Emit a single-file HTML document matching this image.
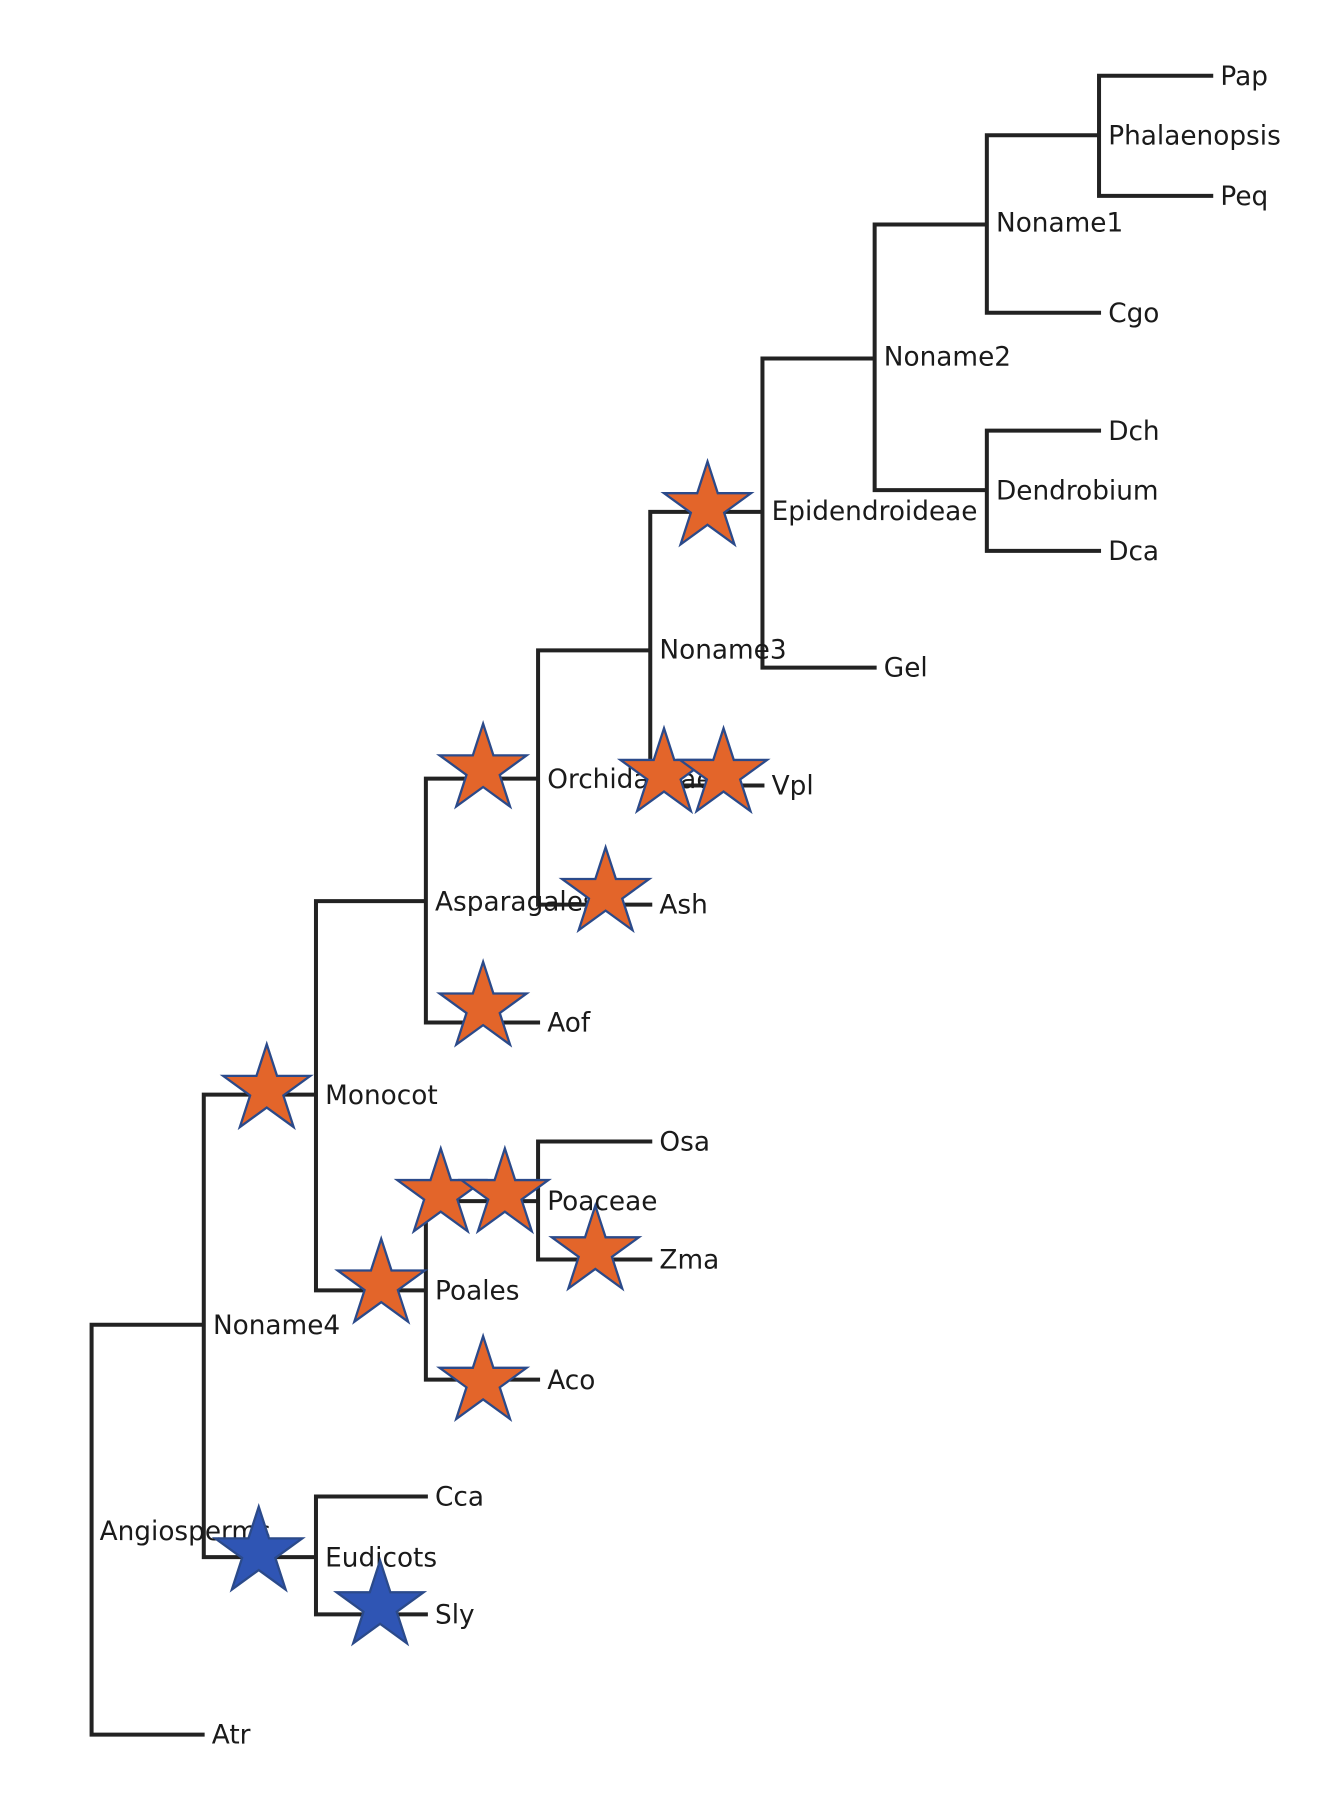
<!DOCTYPE html>
<html><head><meta charset="utf-8"><style>html,body{margin:0;padding:0;background:#fff}svg{display:block}</style></head>
<body>
<svg width="1328" height="1800" viewBox="0 0 1160 1572" xmlns="http://www.w3.org/2000/svg">
<defs>
<polygon id="st" points="0,-40 8.98,-12.36 38.04,-12.36 14.53,4.72 23.51,32.36 0,15.28 -23.51,32.36 -14.53,4.72 -38.04,-12.36 -8.98,-12.36"/>
</defs>
<g stroke="#222" stroke-width="3.5" fill="none" stroke-linecap="square">
<path d="M80 1157V1515M80 1515H177M80 1157H178M178 956V1360M178 956H276M178 1360H276M276 1307V1410M276 1307H372M276 1410H372M276 787V1127M276 787H372M372 680V893M372 893H470M372 680H470M470 568V790M470 790H568M470 568H568M568 447V686M568 686H666M568 447H666M666 313V583M666 583H764M666 313H764M764 196V428M764 196H862M862 118V273M862 273H960M764 428H862M862 376V481M862 376H960M862 481H960M862 118H960M960 66V171M960 66H1058M960 171H1058M276 1127H372M372 1049V1205M372 1205H470M372 1049H470M470 997V1100M470 997H568M470 1100H568"/>
</g>
<g font-family="'DejaVu Sans','Liberation Sans',sans-serif" font-size="23" fill="#1a1a1a" dominant-baseline="central">
<text x="185" y="1516">Atr</text>
<text x="186" y="1158">Noname4</text>
<text x="284" y="957">Monocot</text>
<text x="87" y="1338">Angiosperms</text>
<text x="284" y="1361">Eudicots</text>
<text x="380" y="1308">Cca</text>
<text x="380" y="1411">Sly</text>
<text x="380" y="788">Asparagales</text>
<text x="478" y="894">Aof</text>
<text x="478" y="681">Orchidaceae</text>
<text x="576" y="791">Ash</text>
<text x="576" y="568">Noname3</text>
<text x="674" y="687">Vpl</text>
<text x="674" y="447">Epidendroideae</text>
<text x="772" y="584">Gel</text>
<text x="772" y="312">Noname2</text>
<text x="870" y="195">Noname1</text>
<text x="968" y="274">Cgo</text>
<text x="870" y="429">Dendrobium</text>
<text x="968" y="377">Dch</text>
<text x="968" y="482">Dca</text>
<text x="968" y="119">Phalaenopsis</text>
<text x="1066" y="67">Pap</text>
<text x="1066" y="172">Peq</text>
<text x="380" y="1128">Poales</text>
<text x="478" y="1206">Aco</text>
<text x="478" y="1050">Poaceae</text>
<text x="576" y="998">Osa</text>
<text x="576" y="1101">Zma</text>
</g>
<g fill="#e3652a" stroke="#2b4a8a" stroke-width="2">
<use href="#st" x="618" y="443"/>
<use href="#st" x="422" y="672"/>
<use href="#st" x="580" y="676"/>
<use href="#st" x="632" y="676"/>
<use href="#st" x="529" y="780"/>
<use href="#st" x="422" y="880"/>
<use href="#st" x="233" y="952"/>
<use href="#st" x="385" y="1043"/>
<use href="#st" x="441" y="1043"/>
<use href="#st" x="520" y="1093"/>
<use href="#st" x="333" y="1122"/>
<use href="#st" x="422" y="1207"/>
</g>
<g fill="#2f55b4" stroke="#2b4a8a" stroke-width="2">
<use href="#st" x="226" y="1356"/>
<use href="#st" x="332" y="1403"/>
</g>
</svg>
</body></html>
